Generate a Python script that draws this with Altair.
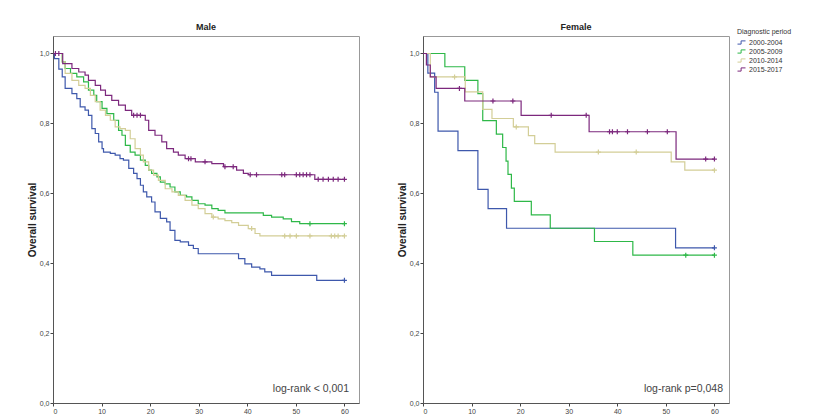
import altair as alt
import pandas as pd

PERIODS = ["2000-2004", "2005-2009", "2010-2014", "2015-2017"]
COLORS = ["#3E58AC", "#2EB848", "#D3CE97", "#7C287D"]
X_TICKS = [0, 10, 20, 30, 40, 50, 60]
Y_TICKS = [0.0, 0.2, 0.4, 0.6, 0.8, 1.0]
END_TIME = 60

# ---------------- Male ----------------
male_2000_t = [0, 0.3, 1.2, 1.9, 2.5, 3.9, 4.9, 5.6, 6.6, 7.3, 8.0, 8.7, 9.4, 10.1, 10.4, 11.8, 12.8, 13.8, 14.5, 15.6,
               16.6, 17.3, 18.0, 18.6, 19.3, 20.3, 21.0, 22.1, 23.4, 24.1, 25.1, 26.2, 27.9, 28.9, 29.9, 38.2, 39.5,
               40.9, 42.6, 43.6, 45.0, 54.3]
male_2000_s = [1.0, 0.985, 0.955, 0.933, 0.900, 0.885, 0.871, 0.847, 0.838, 0.823, 0.785, 0.771, 0.747, 0.728, 0.718,
               0.714, 0.709, 0.699, 0.695, 0.671, 0.657, 0.642, 0.623, 0.604, 0.590, 0.575, 0.547, 0.528, 0.518, 0.494,
               0.465, 0.461, 0.451, 0.442, 0.427, 0.413, 0.398, 0.389, 0.384, 0.375, 0.365, 0.351]
male_2000_c = [60]

male_2005_t = [0, 1.9, 2.5, 3.6, 4.9, 6.3, 7.3, 8.4, 9.0, 10.1, 11.1, 12.5, 13.5, 14.2, 14.9, 15.9, 16.9, 18.0, 19.0,
               19.7, 20.3, 21.4, 22.1, 23.1, 24.1, 25.1, 26.2, 27.5, 28.6, 29.9, 31.3, 32.7, 34.0, 35.4, 43.3, 45.0,
               47.4, 49.1, 50.8]
male_2005_s = [1.0, 0.976, 0.957, 0.943, 0.933, 0.919, 0.895, 0.880, 0.862, 0.843, 0.828, 0.809, 0.780, 0.766, 0.737,
               0.718, 0.709, 0.695, 0.680, 0.666, 0.657, 0.647, 0.632, 0.627, 0.618, 0.604, 0.594, 0.590, 0.580, 0.570,
               0.566, 0.556, 0.551, 0.544, 0.537, 0.532, 0.527, 0.519, 0.513]
male_2005_c = [52.9, 60]

male_2010_t = [0, 1.9, 2.5, 3.9, 5.3, 6.6, 7.7, 8.7, 9.7, 10.8, 11.8, 12.8, 13.8, 14.9, 15.9, 16.9, 18.0, 18.6, 19.7,
               20.7, 21.7, 23.1, 24.5, 25.8, 27.2, 28.6, 29.9, 31.3, 32.7, 34.0, 35.4, 36.8, 38.2, 40.2, 41.6, 42.6]
male_2010_s = [1.0, 0.976, 0.943, 0.923, 0.909, 0.900, 0.880, 0.862, 0.838, 0.823, 0.809, 0.790, 0.785, 0.780, 0.756,
               0.728, 0.709, 0.690, 0.666, 0.652, 0.637, 0.613, 0.604, 0.594, 0.580, 0.566, 0.556, 0.542, 0.532, 0.527,
               0.522, 0.516, 0.508, 0.499, 0.485, 0.478]
male_2010_c = [33.0, 40.9, 47.7, 48.8, 50.1, 52.9, 57.3, 58.0, 58.7, 60]

male_2015_t = [0, 2.0, 3.9, 5.3, 6.6, 7.3, 8.7, 9.8, 10.8, 12.1, 13.5, 14.9, 16.2, 19.0, 19.7, 21.0, 22.4, 23.4, 24.8,
               25.8, 27.2, 29.3, 32.7, 35.1, 37.8, 39.2, 40.2, 53.9]
male_2015_s = [1.0, 0.971, 0.957, 0.947, 0.938, 0.923, 0.909, 0.895, 0.880, 0.866, 0.852, 0.837, 0.823, 0.809, 0.780,
               0.766, 0.747, 0.728, 0.718, 0.709, 0.699, 0.690, 0.685, 0.676, 0.666, 0.657, 0.653, 0.640]
male_2015_c = [0.5, 1.2, 16.6, 17.3, 18.0, 27.9, 28.4, 31.3, 35.4, 37.1, 40.6, 41.9, 47.1, 47.7, 50.1, 50.8, 51.5,
               52.2, 52.9, 54.6, 55.6, 56.7, 57.7, 58.7, 60]

# ---------------- Female ----------------
female_2000_t = [0, 1.0, 2.4, 3.1, 7.2, 11.3, 13.4, 17.2, 52.0]
female_2000_s = [1.0, 0.944, 0.889, 0.778, 0.722, 0.611, 0.556, 0.500, 0.444]
female_2000_c = [60]

female_2005_t = [0, 4.5, 8.6, 11.3, 12.3, 15.1, 16.4, 17.1, 17.5, 18.2, 18.8, 22.3, 26.2, 35.3, 43.2]
female_2005_s = [1.0, 0.962, 0.923, 0.885, 0.808, 0.769, 0.731, 0.692, 0.654, 0.615, 0.577, 0.538, 0.500, 0.462, 0.423]
female_2005_c = [54.1, 60]

female_2010_t = [0, 1.5, 8.7, 12.3, 14.2, 18.6, 21.7, 23.0, 27.2, 51.1, 53.9]
female_2010_s = [1.0, 0.933, 0.890, 0.840, 0.814, 0.790, 0.765, 0.742, 0.718, 0.690, 0.666]
female_2010_c = [6.5, 19.2, 36.1, 43.9, 60]

female_2015_t = [0, 0.7, 1.5, 2.7, 8.6, 20.2, 34.2, 52.1]
female_2015_s = [1.0, 0.967, 0.933, 0.900, 0.864, 0.823, 0.776, 0.698]
female_2015_c = [7.5, 14.4, 18.5, 26.4, 33.6, 38.4, 39.0, 40.0, 42.1, 46.2, 50.3, 58.2, 60]

SERIES = {
    "Male": [(male_2000_t, male_2000_s, male_2000_c), (male_2005_t, male_2005_s, male_2005_c),
             (male_2010_t, male_2010_s, male_2010_c), (male_2015_t, male_2015_s, male_2015_c)],
    "Female": [(female_2000_t, female_2000_s, female_2000_c), (female_2005_t, female_2005_s, female_2005_c),
               (female_2010_t, female_2010_s, female_2010_c), (female_2015_t, female_2015_s, female_2015_c)],
}
LOGRANK = {"Male": "log-rank < 0,001", "Female": "log-rank p=0,048"}
TEXT_GAP = {"Male": 10, "Female": 6}

FONT = "Liberation Sans"
W, H = 306, 367


def step_value(ts, ss, t):
    v = ss[0]
    for ti, si in zip(ts, ss):
        if ti <= t:
            v = si
    return v


def panel(sex):
    line_rows, cens_rows = [], []
    for period, (ts, ss, cs) in zip(PERIODS, SERIES[sex]):
        for t, s in zip(ts, ss):
            line_rows.append({"t": t, "s": s, "period": period})
        line_rows.append({"t": END_TIME, "s": ss[-1], "period": period})
        for c in cs:
            cens_rows.append({"t": c, "s": step_value(ts, ss, c), "period": period})
    ldf = pd.DataFrame(line_rows)
    cdf = pd.DataFrame(cens_rows)

    x = alt.X("t:Q", scale=alt.Scale(domain=[0, 63], nice=False),
              axis=alt.Axis(values=X_TICKS, title=None, grid=False, labelFontSize=7, labelColor="#444",
                            tickSize=3, tickColor="#444", domainColor="#555", labelFont=FONT, labelPadding=1))
    y = alt.Y("s:Q", scale=alt.Scale(domain=[0, 1.05], nice=False),
              axis=alt.Axis(values=Y_TICKS, title="Overall survival", grid=False, labelFontSize=7,
                            labelColor="#444", tickSize=3, tickColor="#444", domainColor="#555",
                            labelExpr="replace(format(datum.value, '.1f'), '.', ',')",
                            titleFontSize=10, titleFontWeight="bold", titleFont=FONT, labelFont=FONT,
                            titlePadding=2, labelPadding=1, titleColor="#222"))
    color = alt.Color("period:N", scale=alt.Scale(domain=PERIODS, range=COLORS),
                      legend=alt.Legend(title="Diagnostic period", orient="none", legendX=684, legendY=-8))

    lines = alt.Chart(ldf).mark_line(interpolate="step-after", strokeWidth=1.2).encode(
        x=x, y=y, color=color, order="t:Q")
    cens = alt.Chart(cdf).mark_point(shape="M0,-1L0,1M-1,0L1,0", size=25, filled=False,
                                     strokeWidth=1.2, opacity=1).encode(x=x, y=y, color=color)
    txt = alt.Chart(pd.DataFrame({"label": [LOGRANK[sex]]})).mark_text(
        align="right", baseline="middle", fontSize=10.5, font=FONT, color="#444"
    ).encode(text="label:N", x=alt.value(W - TEXT_GAP[sex]), y=alt.value(H - 14))

    return alt.layer(lines, cens, txt).properties(
        width=W, height=H,
        title=alt.TitleParams(sex, fontSize=9, fontWeight="bold", font=FONT, offset=4, color="#222"))


chart = alt.hconcat(panel("Male"), panel("Female"), spacing=64, bounds="flush").properties(
    padding={"left": 18, "top": 14, "right": 0, "bottom": 0},
    background="white"
).configure_view(stroke="#999", strokeWidth=1).configure_legend(
    titleFontSize=7, labelFontSize=7, titleFontWeight="normal",
    titleFont=FONT, labelFont=FONT, titleColor="#333", labelColor="#333",
    symbolType="M-1,0.4H-0.1V-0.4H1", symbolSize=64, symbolStrokeWidth=1, rowPadding=0,
    titlePadding=3, padding=0, labelOffset=3
)

chart.save("out.html", embed_options={"renderer": "svg", "actions": False})
